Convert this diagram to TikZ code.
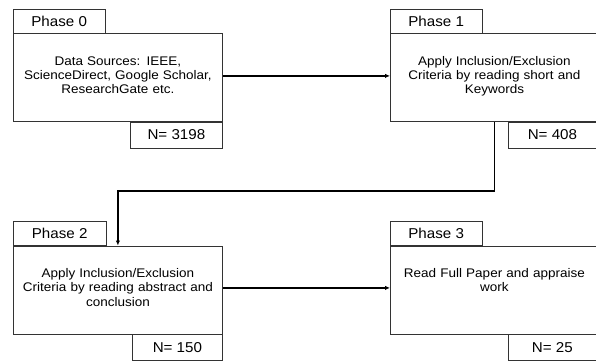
\documentclass[tikz,border=0pt]{standalone}
\usepackage{fontspec}
\setmainfont{Liberation Sans}
\newfontfamily\bodyfont[FakeStretch=1.08]{Liberation Sans}
\newfontfamily\labelfont[FakeStretch=1.06]{Liberation Sans}
\usetikzlibrary{arrows.meta}
\begin{document}
\begin{tikzpicture}[x=1pt,y=-1pt,
  boxline/.style={draw=black!80, line width=0.8pt},
  mainbox/.style={boxline, rectangle, anchor=north west, inner sep=0pt, minimum height=88pt},
  tabbox/.style={boxline, rectangle, anchor=north west, inner sep=0pt, minimum width=91.5pt, minimum height=24.3pt, font=\labelfont\fontsize{14.3}{16}\selectfont},
  nbox/.style={boxline, rectangle, anchor=north east, inner sep=0pt, minimum height=25.7pt, font=\labelfont\fontsize{14.3}{16}\selectfont},
  bodytext/.style={anchor=base, text width=200pt, align=center, inner sep=0pt, font=\bodyfont\fontsize{12.5}{14.3}\selectfont},
  conn/.style={line width=1.5pt, -{Latex[length=5pt,width=4.5pt]}}
]
\useasboundingbox (0,0) rectangle (596,362);

% Phase 0
\node[tabbox] (p0) at (13,8.7) {Phase 0};
\node[mainbox, minimum width=209pt] (m0) at (13,33) {};
\node[nbox, minimum width=92pt] (n0) at (m0.south east) {N= 3198};
\node[bodytext] (t0) at ([yshift=-32pt]m0.north) {Data Sources: IEEE,\\ScienceDirect, Google Scholar,\\ResearchGate etc.};

% Phase 1
\node[tabbox] (p1) at (390,8.7) {Phase 1};
\node[mainbox, minimum width=208pt] (m1) at (390,33) {};
\node[nbox, minimum width=90pt] (n1) at (m1.south east) {\hspace*{-2pt}N= 408};
\node[bodytext] (t1) at ([yshift=-32pt]m1.north) {Apply Inclusion/Exclusion\\Criteria by reading short and\\Keywords};

% Phase 2
\node[tabbox, minimum width=92.5pt] (p2) at (13,221) {Phase 2};
\node[mainbox, minimum width=209pt] (m2) at (13,245.5) {};
\node[nbox, minimum width=90pt] (n2) at (m2.south east) {N= 150};
\node[bodytext] (t2) at ([yshift=-32pt]m2.north) {Apply Inclusion/Exclusion\\Criteria by reading abstract and\\conclusion};

% Phase 3
\node[tabbox] (p3) at (390,221) {Phase 3};
\node[mainbox, minimum width=208pt] (m3) at (390,245.5) {};
\node[nbox, minimum width=90pt] (n3) at (m3.south east) {\hspace*{-2pt}N= 25};
\node[bodytext] (t3) at ([yshift=-32pt]m3.north) {Read Full Paper and appraise\\work};

% connectors
\draw[conn] ([yshift=1.5pt]m0.east) -- ([yshift=1.5pt]m1.west);
\draw[conn] (m1.south) -- ([yshift=-69pt]m1.south) -| (m2.north);
\draw[conn] ([yshift=2pt]m2.east) -- ([yshift=2pt]m3.west);
\end{tikzpicture}
\end{document}
